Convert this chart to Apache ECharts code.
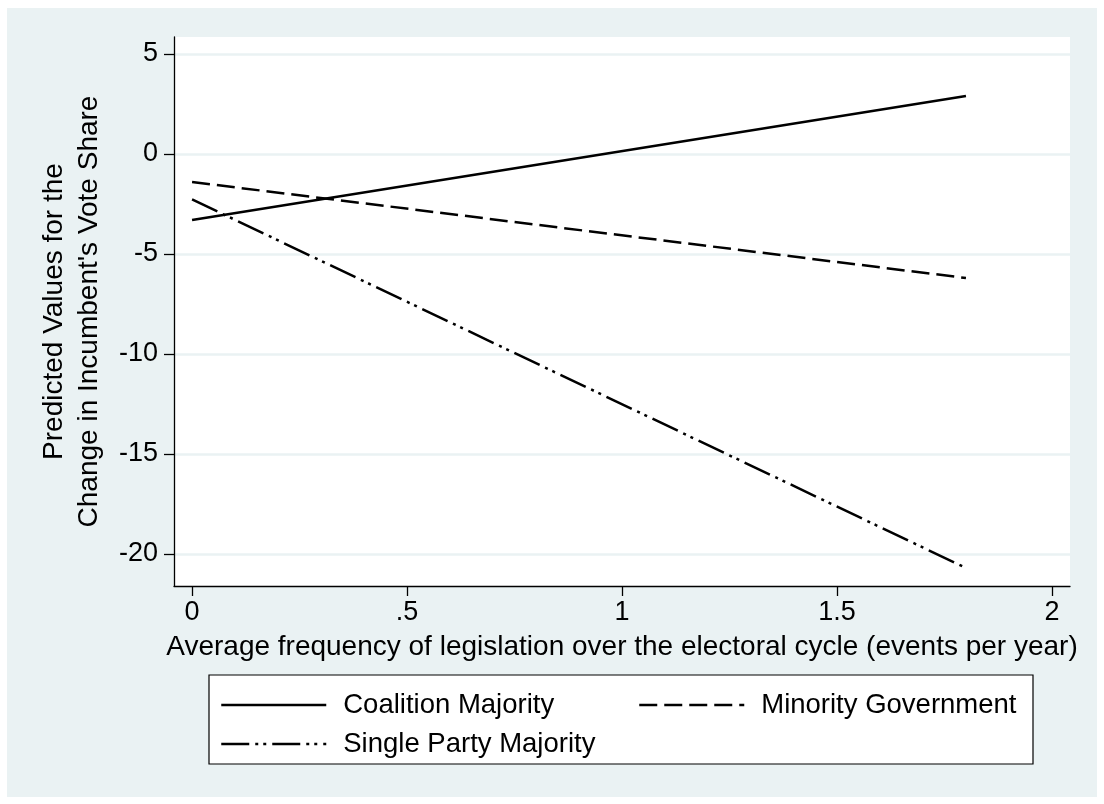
<!DOCTYPE html>
<html>
<head>
<meta charset="utf-8">
<script src="https://cdn.jsdelivr.net/npm/echarts@6/dist/echarts.min.js"></script>
<style>
  html, body { margin: 0; padding: 0; background: #ffffff; }
  #chart { position: absolute; left: 7px; top: 8px; width: 1090px; height: 789px; }
</style>
</head>
<body>
<div id="chart"></div>
<script>
// ---- data ----
const xValues = [0, 1.8];
const coalitionMajority = [-3.3, 2.9];
const minorityGovernment = [-1.4, -6.2];
const singlePartyMajority = [-2.27, -20.7];

const seriesNames = ['Coalition Majority', 'Minority Government', 'Single Party Majority'];
const xTicks = [0, 0.5, 1, 1.5, 2];
const xTickLabels = ['0', '.5', '1', '1.5', '2'];
const yTicks = [-20, -15, -10, -5, 0, 5];
const yTickLabels = ['-20', '-15', '-10', '-5', '0', '5'];

const xTitle = 'Average frequency of legislation over the electoral cycle (events per year)';
const yTitle = 'Predicted Values for the\nChange in Incumbent\'s Vote Share';

function pairs(xs, ys) { return xs.map((x, i) => [x, ys[i]]); }

const FONT = "'Liberation Sans', Arial, sans-serif";
const BG = '#eaf2f3';
const FS = 27;
const FS_TITLE = 28;
const FS_LEGEND = 27.5;

const chart = echarts.init(document.getElementById('chart'), null, { renderer: 'canvas' });

const lineBase = { color: '#000000', width: 2.5, cap: 'butt' };

const legendCommon = {
  orient: 'vertical', top: 683, padding: 0,
  itemWidth: 105, itemHeight: 14, itemGap: 11,
  itemStyle: { color: 'rgba(0,0,0,0)', opacity: 0, borderWidth: 0 },
  lineStyle: { width: 2.5 },
  textStyle: { fontFamily: FONT, fontSize: FS_LEGEND, color: '#000', padding: [0, 0, 0, 12] },
  selectedMode: false, z: 5
};

chart.setOption({
  backgroundColor: BG,
  animation: false,
  textStyle: { fontFamily: FONT, color: '#000' },
  grid: {
    left: 167, top: 29, right: 27, bottom: 211,
    show: true, backgroundColor: '#ffffff', borderWidth: 0,
    containLabel: false
  },
  graphic: {
    elements: [{
      type: 'rect', z: 0,
      shape: { x: 202, y: 667, width: 824, height: 89 },
      style: { fill: '#ffffff', stroke: '#000000', lineWidth: 1.2 }
    }]
  },
  legend: [
    Object.assign({}, legendCommon, { left: 213, data: [seriesNames[0], seriesNames[2]] }),
    Object.assign({}, legendCommon, { left: 631, data: [seriesNames[1]] })
  ],
  xAxis: {
    type: 'value', min: -0.042, max: 2.042,
    name: xTitle, nameLocation: 'middle', nameGap: 47,
    nameTextStyle: { fontFamily: FONT, fontSize: FS_TITLE, color: '#000' },
    axisLine: { show: true, onZero: false, lineStyle: { color: '#000', width: 1.3 } },
    axisTick: { show: true, length: 10, inside: false, customValues: xTicks, lineStyle: { color: '#000', width: 1.3 } },
    axisLabel: {
      show: true, margin: 13, fontFamily: FONT, fontSize: FS, color: '#000',
      customValues: xTicks,
      formatter: function (v) { const i = xTicks.indexOf(v); return i >= 0 ? xTickLabels[i] : ''; }
    },
    splitLine: { show: false }
  },
  yAxis: {
    type: 'value', min: -21.6, max: 5.85,
    name: yTitle, nameLocation: 'middle', nameGap: 67, nameRotate: 90,
    nameTextStyle: { fontFamily: FONT, fontSize: FS_TITLE, color: '#000', lineHeight: 35, align: 'center' },
    axisLine: { show: true, onZero: false, lineStyle: { color: '#000', width: 1.3 } },
    axisTick: { show: true, length: 10, inside: false, customValues: yTicks, lineStyle: { color: '#000', width: 1.3 } },
    axisLabel: {
      show: true, margin: 16, fontFamily: FONT, fontSize: FS, color: '#000',
      customValues: yTicks,
      formatter: function (v) { const i = yTicks.indexOf(v); return i >= 0 ? yTickLabels[i] : ''; }
    },
    splitLine: { show: true, lineStyle: { color: BG, width: 2.5 } }
  },
  series: [
    {
      name: seriesNames[0], type: 'line', symbol: 'none', silent: true,
      data: pairs(xValues, coalitionMajority),
      lineStyle: Object.assign({}, lineBase, { type: 'solid' }),
      itemStyle: { color: '#000' }
    },
    {
      name: seriesNames[1], type: 'line', symbol: 'none', silent: true,
      data: pairs(xValues, minorityGovernment),
      lineStyle: Object.assign({}, lineBase, { type: [18, 7] }),
      itemStyle: { color: '#000' }
    },
    {
      name: seriesNames[2], type: 'line', symbol: 'none', silent: true,
      data: pairs(xValues, singlePartyMajority),
      lineStyle: Object.assign({}, lineBase, { type: [28, 6, 3, 5, 3, 6] }),
      itemStyle: { color: '#000' }
    }
  ]
});
</script>
</body>
</html>
